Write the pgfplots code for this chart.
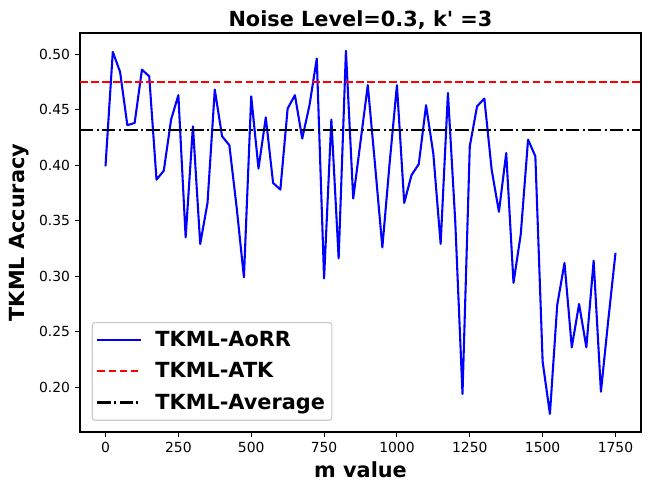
\documentclass[border=0pt]{standalone}
\usepackage{fontspec}
\setmainfont{DejaVu Sans}
\usepackage{pgfplots}
\pgfplotsset{compat=1.18}
\definecolor{legendgray}{RGB}{204,204,204}
\begin{document}
\begin{tikzpicture}
\begin{axis}[
  scale only axis,
  width=403.9pt, height=287.3pt,
  xmin=-87.5, xmax=1837.5,
  ymin=0.1597, ymax=0.519,
  axis line style={line width=0.8pt},
  tick style={line width=0.8pt, black},
  major tick length=3.5pt,
  tick align=outside,
  xtick pos=lower, ytick pos=left,
  xtick={0,250,500,750,1000,1250,1500,1750},
  ytick={0.20,0.25,0.30,0.35,0.40,0.45,0.50},
  /pgf/number format/assume math mode=true,
  /pgf/number format/1000 sep={},
  ticklabel style={font=\fontsize{10}{12}\selectfont},
  xticklabel style={inner sep=0pt, yshift=-3.5pt},
  yticklabel style={/pgf/number format/fixed, /pgf/number format/fixed zerofill, /pgf/number format/precision=2, inner sep=0pt, xshift=-3.5pt},
  legend cell align=left,
  legend style={at={(rel axis cs:0.0209,0.0283)}, anchor=south west,
    draw=legendgray, rounded corners=2pt, line width=0.8pt,
    font=\fontsize{15}{18}\selectfont\bfseries,
    row sep=6pt, inner xsep=3pt, inner ysep=4.5pt},
  legend image code/.code={\draw[#1, line width=1.5pt] (0pt,0pt) -- (31pt,0pt); \path (39pt,0pt);},
  clip=true,
]
\addplot[color={rgb,1:red,0;green,0;blue,1}, line width=1.5pt, line join=round] coordinates {
(0,0.399) (25,0.502) (50,0.484) (75,0.436) (100,0.438) (125,0.486) (150,0.480)
(175,0.387) (200,0.395) (225,0.441) (250,0.463) (275,0.335) (300,0.435) (325,0.329)
(350,0.366) (375,0.468) (400,0.426) (425,0.418) (450,0.362) (475,0.299) (500,0.462)
(525,0.397) (550,0.443) (575,0.384) (600,0.378) (625,0.451) (650,0.463) (675,0.424)
(700,0.454) (725,0.496) (750,0.298) (775,0.441) (800,0.316) (825,0.503) (850,0.370)
(875,0.421) (900,0.472) (925,0.400) (950,0.326) (975,0.402) (1000,0.472) (1025,0.366)
(1050,0.391) (1075,0.401) (1100,0.454) (1125,0.410) (1150,0.329) (1175,0.465) (1200,0.350)
(1225,0.194) (1250,0.417) (1275,0.453) (1300,0.460) (1325,0.396) (1350,0.358) (1375,0.411)
(1400,0.294) (1425,0.338) (1450,0.423) (1475,0.408) (1500,0.223) (1525,0.176) (1550,0.274)
(1575,0.312) (1600,0.236) (1625,0.275) (1650,0.236) (1675,0.314) (1700,0.196) (1725,0.260)
(1750,0.321)
};
\addlegendentry{TKML-AoRR}
\addplot[color={rgb,1:red,1;green,0;blue,0}, line width=1.5pt, dash pattern=on 5.55pt off 2.4pt] coordinates {(-87.5,0.475) (1837.5,0.475)};
\addlegendentry{TKML-ATK}
\addplot[black, line width=1.5pt, dash pattern=on 9.6pt off 2.4pt on 1.5pt off 2.4pt] coordinates {(-87.5,0.432) (1837.5,0.432)};
\addlegendentry{TKML-Average}
\end{axis}
\node[anchor=base, font=\fontsize{15}{18}\selectfont\bfseries] at ([yshift=5pt]current axis.north) {Noise Level=0.3, k\textquotesingle{} =3};
\node[anchor=base, font=\fontsize{15}{18}\selectfont\bfseries] at ([yshift=-32.4pt]current axis.south) {m value};
\node[anchor=center, rotate=90, font=\fontsize{15}{18}\selectfont\bfseries] at ([xshift=-43.9pt]current axis.west) {TKML Accuracy};
\pgfresetboundingbox
\path[use as bounding box] ([shift={(-57.6pt,-42.48pt)}]current axis.south west) rectangle ([shift={(7.2pt,23.76pt)}]current axis.north east);
\end{tikzpicture}
\end{document}
